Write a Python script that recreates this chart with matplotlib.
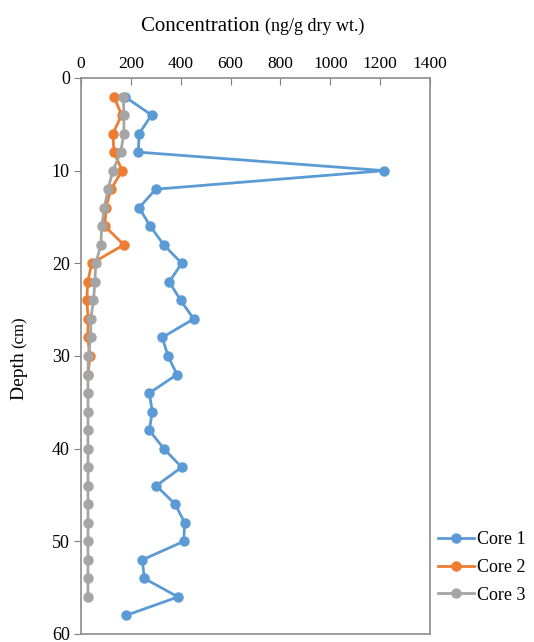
import matplotlib
matplotlib.use("Agg")
import matplotlib.pyplot as plt

depth_core1 = [2, 4, 6, 8, 10, 12, 14, 16, 18, 20, 22, 24, 26, 28, 30, 32, 34, 36, 38, 40,
               42, 44, 46, 48, 50, 52, 54, 56, 58]
conc_core1 = [175, 283, 233, 230, 1217, 300, 233, 278, 332, 404, 354, 400, 452, 326, 349, 385,
              274, 286, 274, 332, 404, 302, 378, 416, 412, 246, 254, 389, 180]

depth_core2 = [2, 4, 6, 8, 10, 12, 14, 16, 18, 20, 22, 24, 26, 28, 30, 32]
conc_core2 = [132, 163, 128, 132, 165, 120, 100, 96, 172, 43, 27, 23, 29, 27, 36, 28]

depth_core3 = [2, 4, 6, 8, 10, 12, 14, 16, 18, 20, 22, 24, 26, 28, 30, 32, 34, 36, 38, 40,
               42, 44, 46, 48, 50, 52, 54, 56]
conc_core3 = [170, 172, 172, 159, 128, 108, 94, 83, 80, 59, 56, 50, 39, 39, 29, 28, 28, 28,
              28, 28, 28, 28, 28, 28, 28, 28, 28, 28]

series_names = ["Core 1", "Core 2", "Core 3"]
colors = ["#5B9BD5", "#ED7D31", "#A5A5A5"]
x_ticks = [0, 200, 400, 600, 800, 1000, 1200, 1400]
y_ticks = [0, 10, 20, 30, 40, 50, 60]

plt.rcParams['font.family'] = ['Liberation Serif', 'DejaVu Serif']

W, H = 534, 642
fig = plt.figure(figsize=(W / 100, H / 100), dpi=100)
ax = fig.add_axes([81 / W, 1 - 634 / H, (430 - 81) / W, (634 - 78) / H])

data = [(conc_core1, depth_core1), (conc_core2, depth_core2), (conc_core3, depth_core3)]
for (x, y), name, c in zip(data, series_names, colors):
    ax.plot(x, y, color=c, lw=2, marker='o', ms=6.5, label=name, solid_joinstyle='round')

ax.set_xlim(0, 1400)
ax.set_ylim(60, 0)
ax.set_xticks(x_ticks)
ax.set_yticks(y_ticks)
ax.xaxis.tick_top()
ax.tick_params(axis='x', direction='in', length=5, color='#808080', labelsize=12.5,
               pad=4, top=True, bottom=False)
ax.tick_params(axis='y', direction='out', length=5, color='#808080', labelsize=13, pad=3)
for s in ax.spines.values():
    s.set_color('#8c8c8c')
    s.set_linewidth(1.2)

leg = fig.legend(loc='upper left', bbox_to_anchor=(438 / W, 1 - 531 / H), frameon=False,
                 fontsize=13, handlelength=2.0, handletextpad=0.15, labelspacing=0.6,
                 borderaxespad=0, borderpad=0)

# Mixed-size labels
fig.canvas.draw()
r = fig.canvas.get_renderer()

# top title
t1 = fig.text(0, 0, "Concentration ", fontsize=15, transform=None,
              ha='left', va='baseline')
t2 = fig.text(0, 0, "(ng/g dry wt.)", fontsize=13, transform=None,
              ha='left', va='baseline')
w1 = t1.get_window_extent(r).width
w2 = t2.get_window_extent(r).width
cx = 253
base_y = H - 31
x0 = cx - (w1 + w2) / 2
t1.set_position((x0, base_y))
t2.set_position((x0 + w1, base_y))

# y label (rotated)
l1 = fig.text(0, 0, "Depth ", fontsize=14, transform=None, rotation=90,
              rotation_mode='anchor', ha='left', va='baseline')
l2 = fig.text(0, 0, "(cm)", fontsize=12, transform=None, rotation=90,
              rotation_mode='anchor', ha='left', va='baseline')
h1 = l1.get_window_extent(r).height
h2 = l2.get_window_extent(r).height
cy = H - 358
bx = 24
y0 = cy - (h1 + h2) / 2
l1.set_position((bx, y0))
l2.set_position((bx, y0 + h1))

fig.savefig("out.png", dpi=100)
